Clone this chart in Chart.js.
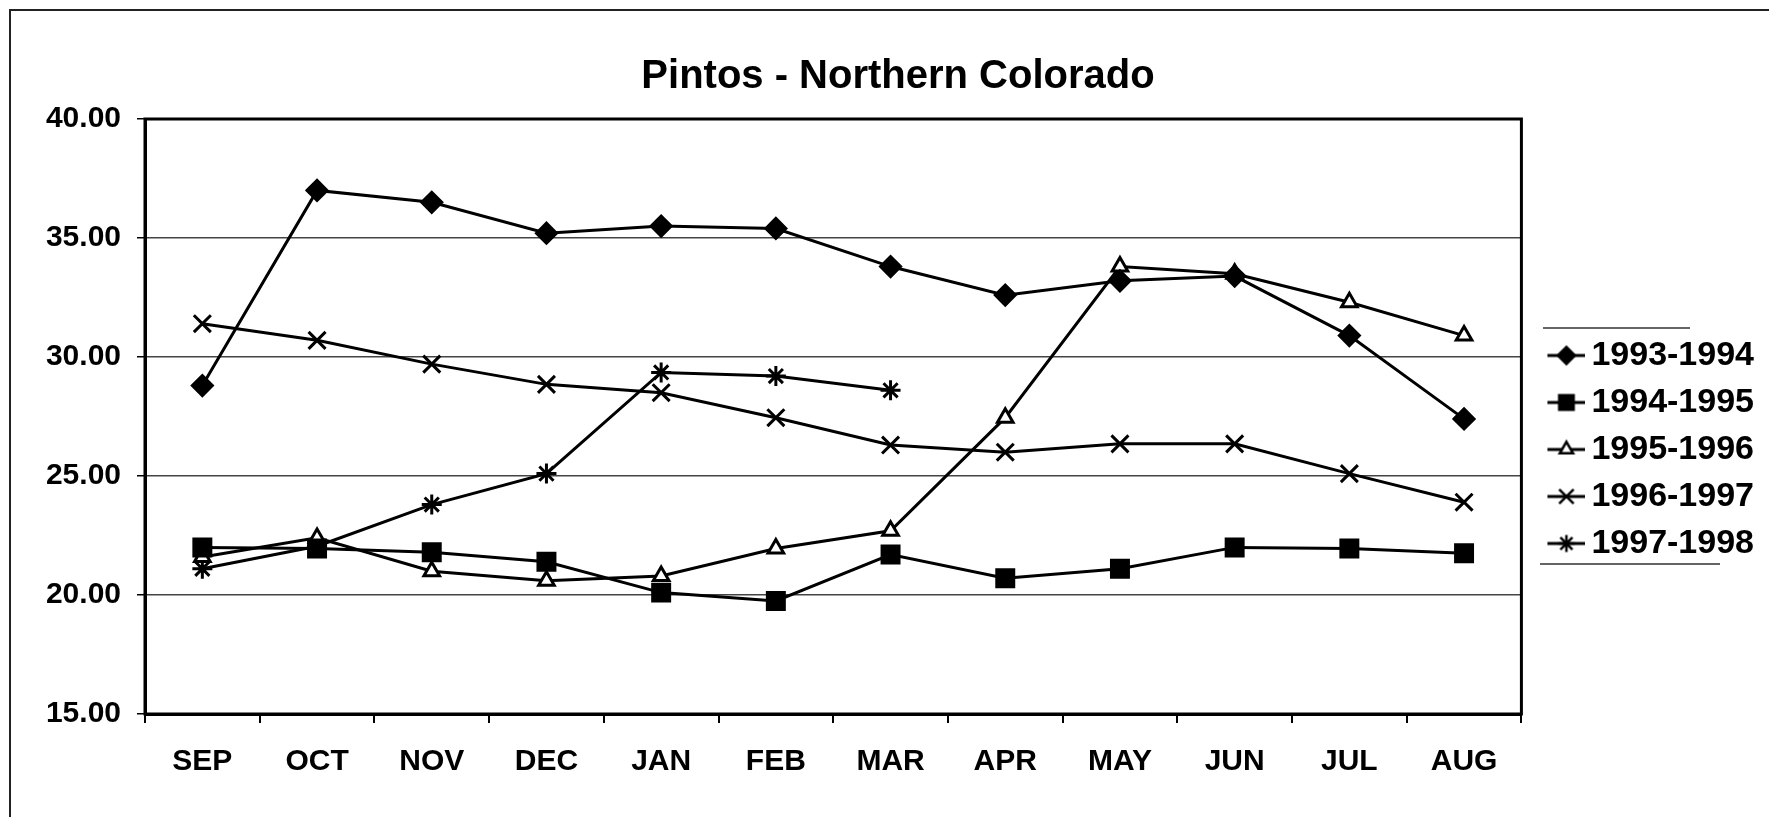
<!DOCTYPE html>
<html>
<head>
<meta charset="utf-8">
<script src="https://cdn.jsdelivr.net/npm/chart.js@4.4.0/dist/chart.umd.min.js"></script>
<style>
    html, body { margin: 0; padding: 0; background: #fff; }
    #wrap { position: relative; width: 1769px; height: 817px; }
</style>
</head>
<body>
<div id="wrap"><canvas id="chart"></canvas></div>
<script>
// 월별 카테고리
const months = ['SEP', 'OCT', 'NOV', 'DEC', 'JAN', 'FEB', 'MAR', 'APR', 'MAY', 'JUN', 'JUL', 'AUG'];

// 시즌별 가격
const season9394 = [28.8, 37.0, 36.5, 35.2, 35.5, 35.4, 33.8, 32.6, 33.2, 33.4, 30.9, 27.4];
const season9495 = [22.0, 21.95, 21.8, 21.4, 20.1, 19.75, 21.7, 20.7, 21.1, 22.0, 21.95, 21.75];
const season9596 = [21.6, 22.4, 21.0, 20.6, 20.8, 21.95, 22.7, 27.45, 33.8, 33.5, 32.3, 30.9];
const season9697 = [31.4, 30.7, 29.7, 28.85, 28.5, 27.45, 26.3, 26.0, 26.35, 26.35, 25.1, 23.9];
const season9798 = [21.1, 22.05, 23.8, 25.1, 29.35, 29.2, 28.6, null, null, null, null, null];

const seasonLabels = ['1993-1994', '1994-1995', '1995-1996', '1996-1997', '1997-1998'];

// y축 눈금
const yMin = 15;
const yMax = 40;
const yStep = 5;

const FONT = "'Liberation Sans', Arial, sans-serif";

const styles = [
    { pointStyle: 'rectRot', radius: 10, fill: '#000', lw: 3 },
    { pointStyle: 'rect', radius: 12, fill: '#000', lw: 3 },
    { pointStyle: 'triangle', radius: 9, fill: '#fff', lw: 3 },
    { pointStyle: 'crossRot', radius: 12, fill: '#000', lw: 3 },
    { pointStyle: 'star', radius: 10, fill: '#000', lw: 3 }
];

const seriesData = [season9394, season9495, season9596, season9697, season9798];

const datasets = seriesData.map((data, i) => ({
    label: seasonLabels[i],
    data,
    borderColor: '#000',
    borderWidth: styles[i].lw,
    backgroundColor: styles[i].fill,
    pointStyle: styles[i].pointStyle,
    pointRadius: styles[i].radius,
    pointHoverRadius: styles[i].radius,
    pointBackgroundColor: styles[i].fill,
    pointBorderColor: '#000',
    pointBorderWidth: 3,
    tension: 0,
    spanGaps: false
}));

// 범례용 아이콘 (선 + 마커), 오른쪽으로 치우치게 그림
function legendIcon(i) {
    const c = document.createElement('canvas');
    c.width = 62;
    c.height = 30;
    const ctx = c.getContext('2d');
    ctx.strokeStyle = '#000';
    ctx.lineWidth = styles[i].lw;
    ctx.beginPath();
    ctx.moveTo(24, 15);
    ctx.lineTo(62, 15);
    ctx.stroke();
    ctx.fillStyle = styles[i].fill;
    ctx.lineWidth = 2.5;
    Chart.helpers.drawPoint(ctx, {
        pointStyle: styles[i].pointStyle,
        radius: styles[i].radius * 0.85,
        rotation: 0,
        borderWidth: 2.5
    }, 43, 15);
    return c;
}

// 외곽선 및 플롯 테두리
const framePlugin = {
    id: 'frame',
    beforeDraw(chart) {
        const ctx = chart.ctx;
        ctx.save();
        ctx.fillStyle = '#fff';
        ctx.fillRect(0, 0, chart.width, chart.height);
        ctx.strokeStyle = '#222';
        ctx.lineWidth = 2;
        ctx.beginPath();
        ctx.moveTo(10, chart.height);
        ctx.lineTo(10, 10);
        ctx.lineTo(chart.width, 10);
        ctx.stroke();
        ctx.restore();
    },
    afterDatasetsDraw(chart) {
        const a = chart.chartArea;
        const ctx = chart.ctx;
        ctx.save();
        ctx.strokeStyle = '#000';
        ctx.lineWidth = 3;
        ctx.strokeRect(a.left, a.top, a.right - a.left, a.bottom - a.top);
        ctx.restore();
    },
    afterDraw(chart) {
        const ctx = chart.ctx;
        ctx.save();
        ctx.strokeStyle = '#333';
        ctx.lineWidth = 1.5;
        ctx.beginPath();
        ctx.moveTo(1543, 328);
        ctx.lineTo(1690, 328);
        ctx.moveTo(1540, 564);
        ctx.lineTo(1720, 564);
        ctx.stroke();
        ctx.restore();
    }
};

const chart = new Chart(document.getElementById('chart'), {
    type: 'line',
    data: { labels: months, datasets },
    options: {
        responsive: true,
        maintainAspectRatio: false,
        animation: false,
        layout: { padding: { top: 20, left: 32, right: 5, bottom: 0 } },
        plugins: {
            title: {
                display: true,
                text: 'Pintos - Northern Colorado',
                color: '#000',
                font: { family: FONT, size: 40, weight: 'bold' },
                padding: { top: 33, bottom: 18 }
            },
            legend: {
                position: 'right',
                align: 'center',
                title: {
                    display: true,
                    text: ' ',
                    font: { size: 10 },
                    padding: { top: 50, bottom: 0 }
                },
                labels: {
                    usePointStyle: true,
                    pointStyleWidth: 40,
                    padding: 13,
                    color: '#000',
                    font: { family: FONT, size: 34, weight: 'bold' },
                    generateLabels(ch) {
                        return ch.data.datasets.map((ds, i) => ({
                            text: ds.label,
                            pointStyle: legendIcon(i),
                            fillStyle: '#000',
                            strokeStyle: '#000',
                            lineWidth: 0,
                            hidden: false,
                            datasetIndex: i,
                            fontColor: '#000'
                        }));
                    }
                }
            },
            tooltip: { enabled: false }
        },
        scales: {
            x: {
                offset: true,
                afterFit(scale) { scale.height = 103; },
                grid: {
                    offset: true,
                    drawOnChartArea: false,
                    drawTicks: true,
                    tickLength: 9,
                    color: '#000',
                    lineWidth: 2
                },
                border: { color: '#000', width: 3 },
                ticks: {
                    color: '#000',
                    padding: 21,
                    maxRotation: 0,
                    font: { family: FONT, size: 30, weight: 'bold' }
                }
            },
            y: {
                min: yMin,
                max: yMax,
                afterFit(scale) { scale.width = 113; },
                grid: {
                    color: '#444',
                    lineWidth: 1.5,
                    tickLength: 8,
                    tickColor: '#000'
                },
                border: { color: '#000', width: 3 },
                ticks: {
                    stepSize: yStep,
                    color: '#000',
                    padding: 16,
                    font: { family: FONT, size: 30, weight: 'bold' },
                    callback: (v) => Number(v).toFixed(2)
                }
            }
        }
    },
    plugins: [framePlugin]
});
</script>
</body>
</html>
